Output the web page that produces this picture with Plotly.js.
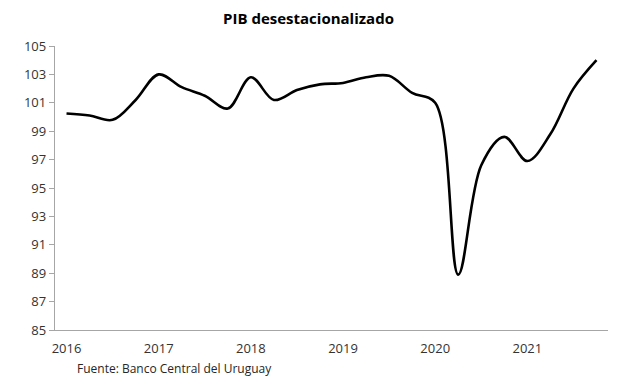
<!DOCTYPE html>
<html>
<head>
<meta charset="utf-8">
<script src="https://cdn.plot.ly/plotly-3.0.1.min.js"></script>
<style>html,body{margin:0;padding:0;background:#fff;}#chart{width:617px;height:385px;}</style>
</head>
<body>
<div id="chart"></div>
<script>
const quarters = [
  "2016T1","2016T2","2016T3","2016T4",
  "2017T1","2017T2","2017T3","2017T4",
  "2018T1","2018T2","2018T3","2018T4",
  "2019T1","2019T2","2019T3","2019T4",
  "2020T1","2020T2","2020T3","2020T4",
  "2021T1","2021T2","2021T3","2021T4"
];
const pib = [
  100.25, 100.1, 99.8, 101.2,
  103.0, 102.1, 101.5, 100.6,
  102.8, 101.2, 101.9, 102.3,
  102.4, 102.8, 102.9, 101.7,
  101.0, 88.9, 96.6, 98.6,
  96.9, 98.8, 102.0, 104.0
];
const yearTickVals = ["2016T1","2017T1","2018T1","2019T1","2020T1","2021T1"];
const yearTickText = ["2016","2017","2018","2019","2020","2021"];
const yTicks = [85,87,89,91,93,95,97,99,101,103,105];

const trace = {
  x: quarters, y: pib, type: 'scatter', mode: 'lines',
  line: {color: '#000000', width: 2.6, shape: 'spline', smoothing: 1},
  hoverinfo: 'skip'
};

const fontFam = '"Open Sans", "Noto Sans", sans-serif';
const layout = {
  width: 617, height: 385,
  margin: {l: 55, r: 9, t: 46, b: 55},
  paper_bgcolor: '#ffffff', plot_bgcolor: '#ffffff',
  showlegend: false,
  title: {text: '<b>PIB desestacionalizado</b>', x: 0.5, xanchor: 'center', y: 0.952, yanchor: 'middle',
          font: {family: fontFam, size: 15, color: '#000000'}},
  xaxis: {
    type: 'category', range: [-0.5, 23.5],
    tickvals: yearTickVals, ticktext: yearTickText,
    showgrid: false, zeroline: false,
    showline: true, linecolor: '#a6a6a6', linewidth: 1.2,
    ticks: '', ticklabelstandoff: 6,
    tickfont: {family: fontFam, size: 13, color: '#333333'}
  },
  yaxis: {
    range: [85, 105], tickvals: yTicks,
    showgrid: false, zeroline: false,
    showline: true, linecolor: '#a6a6a6', linewidth: 1.2,
    ticks: 'outside', ticklen: 5, tickcolor: '#a6a6a6', tickwidth: 1,
    tickfont: {family: fontFam, size: 13, color: '#333333'}
  },
  annotations: [{
    text: 'Fuente: Banco Central del Uruguay', xref: 'paper', yref: 'paper',
    x: 0.036, y: -0.137, xanchor: 'left', yanchor: 'middle', showarrow: false,
    font: {family: fontFam, size: 12, color: '#262626'}
  }]
};
Plotly.newPlot('chart', [trace], layout, {staticPlot: true, displayModeBar: false});
</script>
</body>
</html>
